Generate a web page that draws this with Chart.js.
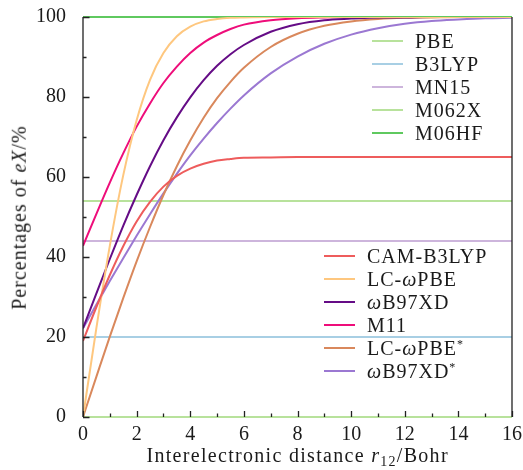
<!DOCTYPE html>
<html>
<head>
<meta charset="utf-8">
<script src="https://cdn.jsdelivr.net/npm/chart.js@4"></script>
<style>
  body { margin: 0; background: #fff; }
  #wrap { position: relative; width: 523px; height: 470px; font-family: "Liberation Serif", serif; color: #1a1a1a; }
  canvas { position: absolute; left: 0; top: 0; }
  .title { position: absolute; font-size: 20px; letter-spacing: 1px; white-space: nowrap; }
  #xTitle { letter-spacing: 1.3px; }
  .legend { position: absolute; font-size: 20px; letter-spacing: 1px; }
  .row { height: 23px; display: flex; align-items: center; white-space: nowrap; }
  .swatch { width: 31px; height: 2px; margin-right: 12px; }
  sup { font-size: 12px; vertical-align: 7px; }
  sub { font-size: 14px; vertical-align: -4px; }
</style>
</head>
<body>
<div id="wrap">
  <canvas id="chart" width="523" height="470"></canvas>
  <div class="title" id="xTitle">Interelectronic distance <i>r</i><sub>12</sub>/Bohr</div>
  <div class="title" id="yTitle">Percentages of <i>eX</i>/%</div>
  <div class="legend" id="legendTop"></div>
  <div class="legend" id="legendBottom"></div>
</div>
<script>
// r12 (Bohr) sampling points
const rGrid = [0, 0.5, 1, 1.5, 2, 2.5, 3, 3.5, 4, 4.5, 5, 5.5, 6, 7, 8, 9, 10, 11, 12, 13, 14, 15, 16];

// range-separated functionals, % of exact exchange
const camB3lyp   = [19.0, 27.5, 35.5, 42.7, 48.9, 53.8, 57.6, 60.3, 62.1, 63.3, 64.1, 64.5, 64.8, 64.9, 65, 65, 65, 65, 65, 65, 65, 65, 65];
const lcWpbe     = [0, 22.3, 42.8, 60.4, 74.2, 84.3, 91.0, 95.2, 97.6, 98.9, 99.5, 99.8, 99.9, 100, 100, 100, 100, 100, 100, 100, 100, 100, 100];
const wb97xd     = [22.2, 30.9, 39.5, 47.8, 55.5, 62.7, 69.2, 74.9, 79.9, 84.2, 87.8, 90.7, 93.0, 96.3, 98.2, 99.2, 99.6, 99.9, 99.9, 100, 100, 100, 100];
const m11        = [42.8, 50.8, 58.6, 65.9, 72.6, 78.4, 83.5, 87.6, 91.0, 93.6, 95.5, 97.0, 98.1, 99.2, 99.7, 99.9, 100, 100, 100, 100, 100, 100, 100];
const lcWpbeStar = [0, 10.1, 20.1, 29.7, 38.9, 47.5, 55.5, 62.7, 69.1, 74.8, 79.7, 83.8, 87.3, 92.5, 95.8, 97.8, 98.9, 99.5, 99.8, 99.9, 100, 100, 100];
const wb97xdStar = [22.2, 28.1, 34.0, 39.7, 45.3, 50.7, 55.9, 60.8, 65.4, 69.6, 73.5, 77.1, 80.4, 85.9, 90.1, 93.3, 95.6, 97.2, 98.3, 99.0, 99.4, 99.7, 99.8];

// global functionals: constant % over the whole range
const rEnds = [0, 16];
const pbe   = [0, 0];
const b3lyp = [20, 20];
const mn15  = [44, 44];
const m062x = [54, 54];
const m06hf = [100, 100];

const curveLabels = ['CAM-B3LYP', 'LC-ωPBE', 'ωB97XD', 'M11', 'LC-ωPBE*', 'ωB97XD*'];
const curveValues = [camB3lyp, lcWpbe, wb97xd, m11, lcWpbeStar, wb97xdStar];
const curveColors = ['#ee5c5c', '#fec77f', '#650c86', '#ee0d7a', '#d9885c', '#9b78d2'];

const flatLabels = ['PBE', 'B3LYP', 'MN15', 'M062X', 'M06HF'];
const flatValues = [pbe, b3lyp, mn15, m062x, m06hf];
const flatColors = ['#b8e29c', '#a8cfe4', '#cdb5dc', '#b8e29c', '#5fc95f'];

const xTicks = [0, 2, 4, 6, 8, 10, 12, 14, 16];
const yTicks = [0, 20, 40, 60, 80, 100];

const toPoints = (xs, ys) => xs.map((x, i) => ({ x: x, y: ys[i] }));

const datasets = [];
curveLabels.forEach((label, i) => {
  datasets.push({ label: label, data: toPoints(rGrid, curveValues[i]), borderColor: curveColors[i] });
});
flatLabels.forEach((label, i) => {
  // линии на 0 и 100 не обрезаем по краю поля
  datasets.push({ label: label, data: toPoints(rEnds, flatValues[i]), borderColor: flatColors[i], clip: 3 });
});

// рамка и тики внутрь
const frameTicks = {
  id: 'frameTicks',
  afterDraw(chart) {
    const { ctx, chartArea: { left, top, right, bottom }, scales: { x, y } } = chart;
    ctx.save();
    ctx.strokeStyle = '#222';
    ctx.lineWidth = 1.3;
    ctx.beginPath();
    for (let v = 0; v <= 100; v += 10) {
      const py = Math.round(y.getPixelForValue(v)) + 0.5;
      const len = v % 20 === 0 ? 6.5 : 3.5;
      ctx.moveTo(left, py);
      ctx.lineTo(left + len, py);
    }
    for (let v = 0; v <= 16; v += 1) {
      const px = Math.round(x.getPixelForValue(v)) + 0.5;
      const len = v % 2 === 0 ? 6 : 3.5;
      ctx.moveTo(px, bottom);
      ctx.lineTo(px, bottom - len);
    }
    ctx.stroke();
    ctx.beginPath();
    ctx.moveTo(left, top);
    ctx.lineTo(left, bottom);
    ctx.moveTo(right, top);
    ctx.lineTo(right, bottom);
    ctx.stroke();
    ctx.restore();
  },
};

const font = { family: '"Liberation Serif", serif', size: 20 };

const chart = new Chart(document.getElementById('chart'), {
  type: 'line',
  data: { datasets: datasets },
  options: {
    responsive: false,
    animation: false,
    layout: { padding: { left: 0, top: 17, right: 11, bottom: 0 } },
    elements: {
      point: { radius: 0 },
      line: { borderWidth: 2, cubicInterpolationMode: 'monotone' },
    },
    plugins: { legend: { display: false }, tooltip: { enabled: false } },
    scales: {
      x: {
        type: 'linear', min: 0, max: 16,
        afterFit: (s) => { s.height = 53; s.paddingLeft = 0; s.paddingRight = 0; },
        afterBuildTicks: (s) => { s.ticks = xTicks.map((v) => ({ value: v })); },
        ticks: { color: '#1a1a1a', font: font, padding: -2, maxRotation: 0 },
        grid: { display: false },
        border: { display: false },
      },
      y: {
        min: 0, max: 100,
        afterFit: (s) => { s.width = 83; s.paddingTop = 0; s.paddingBottom = 0; },
        afterBuildTicks: (s) => { s.ticks = yTicks.map((v) => ({ value: v })); },
        ticks: { color: '#1a1a1a', font: font, padding: 9 },
        grid: { display: false },
        border: { display: false },
      },
    },
  },
  plugins: [frameTicks],
});

// подгоняем поле графика под рамку оригинала
const targetTop = 17;
const targetRight = 512;
for (let k = 0; k < 3; k++) {
  const a = chart.chartArea;
  const pad = chart.options.layout.padding;
  pad.top += targetTop - a.top;
  pad.right += a.right - targetRight;
  chart.update();
}

// легенды в HTML
function fmt(label) {
  return label.replace(/ω/g, '<i>ω</i>').replace(/\*$/, '<sup>*</sup>');
}
function buildLegend(elId, labels, colors) {
  const box = document.getElementById(elId);
  labels.forEach((label, i) => {
    const row = document.createElement('div');
    row.className = 'row';
    row.innerHTML = '<span class="swatch" style="background:' + colors[i] + '"></span><span>' + fmt(label) + '</span>';
    box.appendChild(row);
  });
}
buildLegend('legendTop', flatLabels, flatColors);
buildLegend('legendBottom', curveLabels, curveColors);

const area = chart.chartArea;
const legendTop = document.getElementById('legendTop');
legendTop.style.left = '372px';
legendTop.style.top = (41 - 11.5) + 'px';
const legendBottom = document.getElementById('legendBottom');
legendBottom.style.left = '324px';
legendBottom.style.top = (256 - 11.5) + 'px';

const xTitle = document.getElementById('xTitle');
xTitle.style.left = ((area.left + area.right) / 2 - xTitle.offsetWidth / 2) + 'px';
xTitle.style.top = (457 - xTitle.offsetHeight / 2) + 'px';
const yTitle = document.getElementById('yTitle');
yTitle.style.left = (19 - yTitle.offsetWidth / 2) + 'px';
yTitle.style.top = ((area.top + area.bottom) / 2 - yTitle.offsetHeight / 2) + 'px';
yTitle.style.transform = 'rotate(-90deg)';
</script>
</body>
</html>
